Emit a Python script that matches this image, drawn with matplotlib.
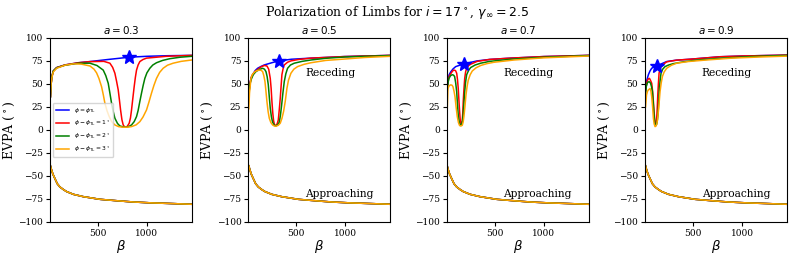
import matplotlib
matplotlib.use("Agg")
import matplotlib.pyplot as plt

plt.rcParams['font.family'] = ['DejaVu Serif']
plt.rcParams['mathtext.fontset'] = 'dejavusans'

a_values = [0.3, 0.5, 0.7, 0.9]
star_beta = [819, 320, 186, 135]
star_evpa = [79, 75, 71.4, 69.6]
labels = [r'$\phi=\phi_{\rm TL}$', r'$\phi-\phi_{\rm TL}=1^\circ$',
          r'$\phi-\phi_{\rm TL}=2^\circ$', r'$\phi-\phi_{\rm TL}=3^\circ$']
colors = ['blue', 'red', 'green', 'orange']

# ---- receding limb, a = 0.3 : (beta, EVPA) ----
r03_blue = [(15,36),(22,50),(30,58),(44,64),(78,67.7),(163,70.6),(300,73),(420,74.3),(600,76.5),(819,79),(1000,80),(1200,80.6),(1460,81)]
r03_red = [(15,36),(22,50),(30,58),(44,64),(78,67.7),(163,70.6),(300,73),(420,74.2),(560,74.5),(622,72.5),(650,68),(673,61.6),(690,53),(707,43.5),(720,32),(731,21.7),(745,11),(758,5.4),(772,3.3),(785,2.9),(800,4),(819,7.2),(832,13),(843,21.7),(857,35),(870,47),(882,57),(894,65),(910,70.5),(928,74.3),(960,76.5),(996,78),(1200,80),(1460,81)]
r03_green = [(15,36),(22,50),(30,58),(44,64),(78,67.5),(163,70.3),(300,72.5),(418,72.5),(490,70),(554,65),(580,59),(605,50.7),(622,40),(639,29),(656,20),(673,12.7),(700,7),(724,4.3),(760,3.2),(785,3),(815,3.7),(843,5.4),(870,9),(894,14.5),(910,21),(928,31),(945,40),(962,48.5),(979,56),(1000,62),(1030,67),(1060,70.5),(1098,73),(1160,75.5),(1234,77.4),(1340,79),(1460,80)]
r03_orange = [(15,36),(22,50),(30,57),(44,63),(78,67),(163,70.3),(250,71.8),(330,71.5),(418,69.5),(460,66),(486,62),(510,56),(537,47),(555,38),(571,29),(592,21),(615,14.5),(640,9),(673,5.4),(710,3.6),(758,2.9),(800,3),(843,3.6),(890,5.5),(928,9),(960,14),(996,21.7),(1020,30),(1047,40),(1072,48.5),(1098,56),(1130,62.5),(1166,67),(1210,70.3),(1268,72.5),(1350,74.5),(1460,76)]

# ---- receding limb, a = 0.5 ----
r05_blue = [(15,38),(25,50),(40,57),(54,60),(80,64.5),(105,67),(140,69),(173,70.6),(250,73),(320,75),(450,76.8),(650,78),(989,79.7),(1460,81)]
r05_red = [(15,38),(25,50),(40,57),(54,60),(80,63.5),(105,65.6),(140,68.5),(173,70),(200,69.5),(218,66),(234,56),(243,45),(251,30.8),(260,18),(268,10),(275,6.5),(285,4.7),(292,4.5),(300,5.5),(310,8.5),(316,10.9),(326,22),(336,34.4),(345,48),(353,60),(365,66.5),(377,70.6),(410,73.5),(445,75),(520,76.5),(650,78),(989,79.7),(1460,81)]
r05_green = [(15,38),(25,49),(40,55),(60,60),(88,63.4),(120,65.5),(156,67),(175,66),(190,63.4),(202,58),(214,49),(224,36),(234,23.6),(246,14),(258,8.3),(275,5),(292,4.5),(310,5.5),(326,8.3),(338,16),(350,27),(363,40),(377,52.5),(393,61),(411,67),(440,70.5),(479,72.5),(560,74.5),(650,76),(800,77.8),(1000,79.3),(1460,80.8)]
r05_orange = [(15,23),(22,40),(37,56),(50,60),(71,62.7),(95,64.3),(122,65),(140,64.8),(156,63.4),(168,59),(180,52.5),(190,42),(200,30.8),(212,20),(224,12.7),(240,8),(258,5.4),(275,4.3),(292,4),(315,5),(336,7.3),(353,12.5),(370,20),(387,31),(404,45),(420,54),(445,61.6),(475,66),(513,68.8),(580,71.3),(650,73),(800,75.5),(989,77),(1200,78.7),(1460,80)]

# ---- receding limb, a = 0.7 ----
r07_blue = [(15,47),(25,55),(35,60),(51,63),(75,66.3),(102,68.8),(140,70.2),(186,71.4),(250,73.3),(322,75),(450,76.6),(663,78),(1000,79.7),(1460,81)]
r07_red = [(15,45),(25,53),(35,58),(51,61),(70,64),(84,65),(100,64.5),(112,61.6),(120,55),(128,45),(135,32),(142,20),(148,11),(153,6),(160,6.5),(169,9.8),(174,18),(179,30.8),(186,44),(194,56),(203,63),(214,67),(235,70),(255,71.4),(322,74.5),(450,76.6),(663,78),(1000,79.7),(1460,81)]
r07_green = [(15,42),(25,52),(33,56),(50,59),(67,60),(80,59.5),(91,58),(102,51),(112,41.6),(120,28),(128,16.3),(137,9),(146,5.4),(155,4.8),(163,6),(171,10),(179,18),(186,29),(194,41.6),(203,52),(214,60),(235,65),(255,67.8),(300,70.5),(357,72.5),(450,74.5),(663,76.8),(1000,79),(1460,80.8)]
r07_orange = [(15,20),(23,45),(35,48),(51,49),(65,48.5),(74,47),(85,42),(95,36),(106,25),(118,14.5),(130,8),(142,4.7),(155,4.3),(169,5),(178,8.5),(186,14.5),(196,25),(207,38),(218,47),(230,54),(250,60),(271,64),(310,67.5),(357,70),(420,72),(492,73.5),(700,76),(1000,78.3),(1460,80.3)]

# ---- receding limb, a = 0.9 ----
r09_blue = [(15,45),(25,53),(44,60),(60,64),(78,67),(105,68.8),(135,69.6),(170,71.5),(231,74.3),(330,75.8),(469,76.8),(775,79.5),(1000,80.3),(1460,81.3)]
r09_red = [(15,42),(25,50),(35,54),(44,55.5),(55,56),(65,54),(78,50.7),(87,42),(95,30.8),(102,20),(109,10.9),(114,6.5),(119,5.4),(124,7),(129,12.7),(135,25),(140,38),(146,50),(153,61.6),(163,66),(173,68.8),(200,71.5),(231,74),(330,75.8),(469,76.8),(775,79.5),(1000,80.3),(1460,81.3)]
r09_green = [(15,38),(22,47),(35,51.5),(51,52.5),(65,51),(76,47),(85,41.6),(93,30),(102,16.3),(108,9),(115,5.4),(122,5),(129,6.5),(136,11),(143,18),(150,32),(156,45),(164,54),(173,61.6),(190,66),(214,68.8),(250,70.5),(299,72),(400,74),(550,76),(800,78),(1100,79.8),(1460,81)]
r09_orange = [(15,25),(25,38),(35,42),(44,43.5),(61,45),(70,42),(78,36),(87,25),(95,12.7),(103,6.5),(112,3.6),(120,4),(129,6),(137,11),(146,20),(154,30),(163,41.6),(175,51),(187,58),(205,63),(231,67),(280,70.3),(333,72.5),(450,74.3),(639,76),(900,78),(1200,79.3),(1460,80.2)]

# ---- approaching limb (all phi offsets overlap) ----
app_beta = [15, 25, 40, 61, 85, 112, 150, 180, 250, 350, 520, 700, 860, 1050, 1200, 1460]
app_evpa = [-39, -43, -48, -53, -58.5, -62, -65, -67, -70, -72.5, -75.4, -77, -78.3, -79.3, -79.8, -80.8]

receding = [
    [r03_blue, r03_red, r03_green, r03_orange],
    [r05_blue, r05_red, r05_green, r05_orange],
    [r07_blue, r07_red, r07_green, r07_orange],
    [r09_blue, r09_red, r09_green, r09_orange],
]

fig, axes = plt.subplots(1, 4, figsize=(7.93, 2.56), dpi=100)
fig.subplots_adjust(left=0.063, right=0.9925, bottom=0.133, top=0.852, wspace=0.397)

for i, ax in enumerate(axes):
    for curve, c, lab in zip(receding[i], colors, labels):
        b = [p[0] for p in curve]
        v = [p[1] for p in curve]
        ax.plot(b, v, color=c, lw=1.1, label=lab)
    for c in colors:
        ax.plot(app_beta, app_evpa, color=c, lw=1.1)
    ax.plot(star_beta[i], star_evpa[i], marker='*', color='blue', ms=10, ls='none')
    ax.set_xlim(10, 1460)
    ax.set_ylim(-100, 100)
    ax.set_yticks([-100, -75, -50, -25, 0, 25, 50, 75, 100])
    ax.set_xticks([500, 1000])
    ax.tick_params(labelsize=6.5, length=3, width=0.8, pad=2)
    ax.set_title(r'$a=%s$' % a_values[i], fontsize=7.5, pad=3)
    ax.set_xlabel(r'$\beta$', fontsize=9.5, labelpad=0)
    ax.set_ylabel(r'EVPA ($^\circ$)', fontsize=9, labelpad=1)
    for s in ax.spines.values():
        s.set_linewidth(0.8)
    if i > 0:
        ax.text(0.4, 0.81, 'Receding', transform=ax.transAxes, fontsize=7.7, va='center', ha='left')
        ax.text(0.4, 0.152, 'Approaching', transform=ax.transAxes, fontsize=7.7, va='center', ha='left')
    else:
        ax.legend(loc='center left', fontsize=4.3, handlelength=2.2, borderpad=0.5,
                  labelspacing=0.5, frameon=True)

fig.suptitle(r'Polarization of Limbs for $i=17^\circ$, $\gamma_\infty=2.5$', fontsize=9, y=0.985)
fig.savefig('out.png', dpi=100)
